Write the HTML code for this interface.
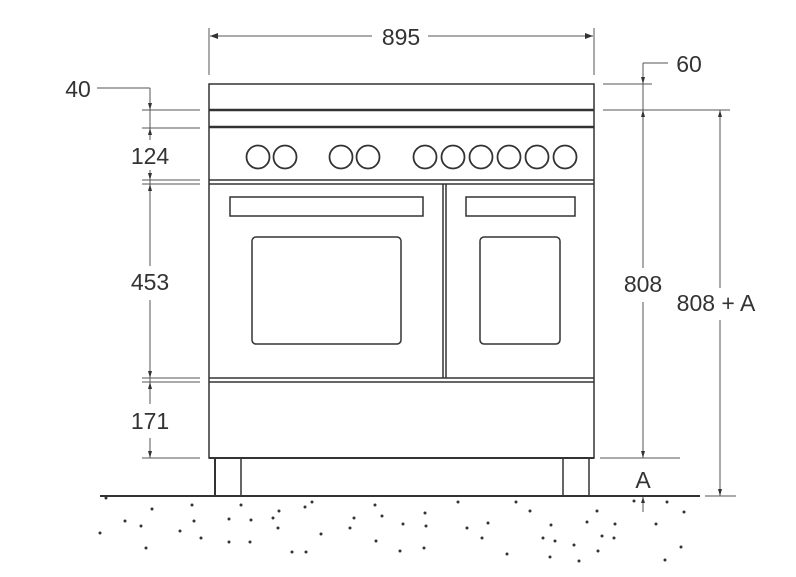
<!DOCTYPE html>
<html><head><style>body{margin:0;background:#fff}svg{display:block}</style></head><body>
<svg width="796" height="577" viewBox="0 0 796 577" xmlns="http://www.w3.org/2000/svg" font-family="Liberation Sans, sans-serif">
<g stroke="#333" fill="none" stroke-width="1.5">
<rect x="209" y="84" width="385" height="374"/>
<line x1="209" y1="110" x2="594" y2="110" stroke-width="2.5"/>
<line x1="209" y1="127" x2="594" y2="127" stroke-width="2.5"/>
<line x1="209" y1="180" x2="594" y2="180"/>
<line x1="209" y1="184" x2="594" y2="184"/>
<line x1="443" y1="184" x2="443" y2="378"/>
<line x1="446" y1="184" x2="446" y2="378"/>
<line x1="209" y1="378" x2="594" y2="378"/>
<line x1="209" y1="382" x2="594" y2="382"/>
<line x1="209" y1="458" x2="594" y2="458" stroke-width="2"/>
<rect x="230" y="197" width="193" height="19"/>
<rect x="466" y="197" width="109" height="19"/>
<rect x="252" y="237" width="149" height="107" rx="4"/>
<rect x="480" y="237" width="80" height="107" rx="4"/>
<g stroke-width="1.8">
<circle cx="258" cy="157" r="11.5"/><circle cx="285" cy="157" r="11.5"/>
<circle cx="341" cy="157" r="11.5"/><circle cx="368" cy="157" r="11.5"/>
<circle cx="425" cy="157" r="11.5"/><circle cx="453" cy="157" r="11.5"/>
<circle cx="481" cy="157" r="11.5"/><circle cx="509" cy="157" r="11.5"/>
<circle cx="537" cy="157" r="11.5"/><circle cx="565" cy="157" r="11.5"/>
</g>
<line x1="215" y1="458" x2="215" y2="496" stroke-width="2"/>
<line x1="241" y1="458" x2="241" y2="496"/>
<line x1="563" y1="458" x2="563" y2="496"/>
<line x1="589" y1="458" x2="589" y2="496"/>
<line x1="100" y1="496" x2="700" y2="496" stroke-width="2"/>
</g>
<g stroke="#555" fill="none" stroke-width="1">
<line x1="209" y1="28" x2="209" y2="75"/><line x1="594" y1="28" x2="594" y2="75"/>
<line x1="210" y1="36" x2="372" y2="36"/><line x1="428" y1="36" x2="593" y2="36"/>
<line x1="97" y1="88" x2="150" y2="88"/>
<line x1="150" y1="88" x2="150" y2="458"/>
<line x1="142" y1="110" x2="200" y2="110"/><line x1="142" y1="128" x2="200" y2="128"/>
<line x1="142" y1="180" x2="200" y2="180"/><line x1="142" y1="184" x2="200" y2="184"/>
<line x1="142" y1="378" x2="200" y2="378"/><line x1="142" y1="382" x2="200" y2="382"/>
<line x1="142" y1="458" x2="200" y2="458"/>
<line x1="643" y1="63" x2="668" y2="63"/><line x1="643" y1="63" x2="643" y2="458"/>
<line x1="603" y1="84" x2="652" y2="84"/>
<line x1="603" y1="110" x2="730" y2="110"/>
<line x1="600" y1="458" x2="680" y2="458"/>
<line x1="720" y1="110" x2="720" y2="496"/>
<line x1="705" y1="496" x2="736" y2="496"/>
<line x1="643" y1="497" x2="643" y2="512"/>
</g>
<g fill="#fff">
<rect x="126" y="140" width="48" height="30"/><rect x="126" y="266" width="48" height="34"/>
<rect x="126" y="404" width="48" height="34"/><rect x="618" y="268" width="50" height="34"/>
<rect x="668" y="288" width="98" height="32"/><rect x="631" y="464" width="24" height="26"/>
</g>
<g fill="#333" font-size="23" text-anchor="middle">
<text x="401" y="45">895</text>
<text x="78" y="97">40</text>
<text x="689" y="72">60</text>
<text x="150" y="164">124</text>
<text x="150" y="290">453</text>
<text x="150" y="429">171</text>
<text x="643" y="292">808</text>
<text x="716" y="311">808 + A</text>
<text x="643" y="488">A</text>
</g>
<g fill="#333">
<path d="M210 36l8-3v6z M593 36l-8-3v6z M150 110l-2-7h4z M150 128l-2 7h4z M150 180l-2-7h4z M150 184l-2 7h4z M150 378l-2-7h4z M150 382l-2 7h4z M150 458l-2-7h4z M643 84l-2-7h4z M643 110l-2 7h4z M643 458l-2-7h4z M720 110l-2 7h4z M720 496l-2-7h4z M643 497l-2 6h4z"/>
<g>
<circle cx="106" cy="498" r="1.5"/><circle cx="152" cy="509" r="1.5"/><circle cx="125" cy="521" r="1.5"/><circle cx="100" cy="533" r="1.5"/><circle cx="146" cy="548" r="1.5"/><circle cx="194" cy="521" r="1.5"/><circle cx="192" cy="505" r="1.5"/><circle cx="180" cy="531" r="1.5"/><circle cx="201" cy="538" r="1.5"/><circle cx="229" cy="542" r="1.5"/><circle cx="229" cy="519" r="1.5"/><circle cx="250" cy="542" r="1.5"/><circle cx="279" cy="511" r="1.5"/><circle cx="251" cy="520" r="1.5"/><circle cx="273" cy="518" r="1.5"/><circle cx="306" cy="552" r="1.5"/><circle cx="321" cy="534" r="1.5"/><circle cx="292" cy="552" r="1.5"/><circle cx="278" cy="528" r="1.5"/><circle cx="305" cy="507" r="1.5"/><circle cx="312" cy="502" r="1.5"/><circle cx="354" cy="518" r="1.5"/><circle cx="375" cy="505" r="1.5"/><circle cx="382" cy="516" r="1.5"/><circle cx="376" cy="541" r="1.5"/><circle cx="350" cy="528" r="1.5"/><circle cx="403" cy="524" r="1.5"/><circle cx="426" cy="526" r="1.5"/><circle cx="424" cy="548" r="1.5"/><circle cx="400" cy="551" r="1.5"/><circle cx="458" cy="502" r="1.5"/><circle cx="425" cy="513" r="1.5"/><circle cx="467" cy="528" r="1.5"/><circle cx="482" cy="538" r="1.5"/><circle cx="488" cy="523" r="1.5"/><circle cx="516" cy="502" r="1.5"/><circle cx="507" cy="554" r="1.5"/><circle cx="530" cy="511" r="1.5"/><circle cx="543" cy="538" r="1.5"/><circle cx="555" cy="541" r="1.5"/><circle cx="574" cy="545" r="1.5"/><circle cx="587" cy="522" r="1.5"/><circle cx="550" cy="557" r="1.5"/><circle cx="597" cy="511" r="1.5"/><circle cx="602" cy="536" r="1.5"/><circle cx="614" cy="538" r="1.5"/><circle cx="615" cy="524" r="1.5"/><circle cx="634" cy="501" r="1.5"/><circle cx="656" cy="524" r="1.5"/><circle cx="579" cy="561" r="1.5"/><circle cx="551" cy="525" r="1.5"/><circle cx="681" cy="547" r="1.5"/><circle cx="684" cy="512" r="1.5"/><circle cx="665" cy="560" r="1.5"/><circle cx="598" cy="551" r="1.5"/><circle cx="667" cy="502" r="1.5"/><circle cx="241" cy="505" r="1.5"/><circle cx="141" cy="526" r="1.5"/>
</g>
</g>
</svg>
</body></html>
